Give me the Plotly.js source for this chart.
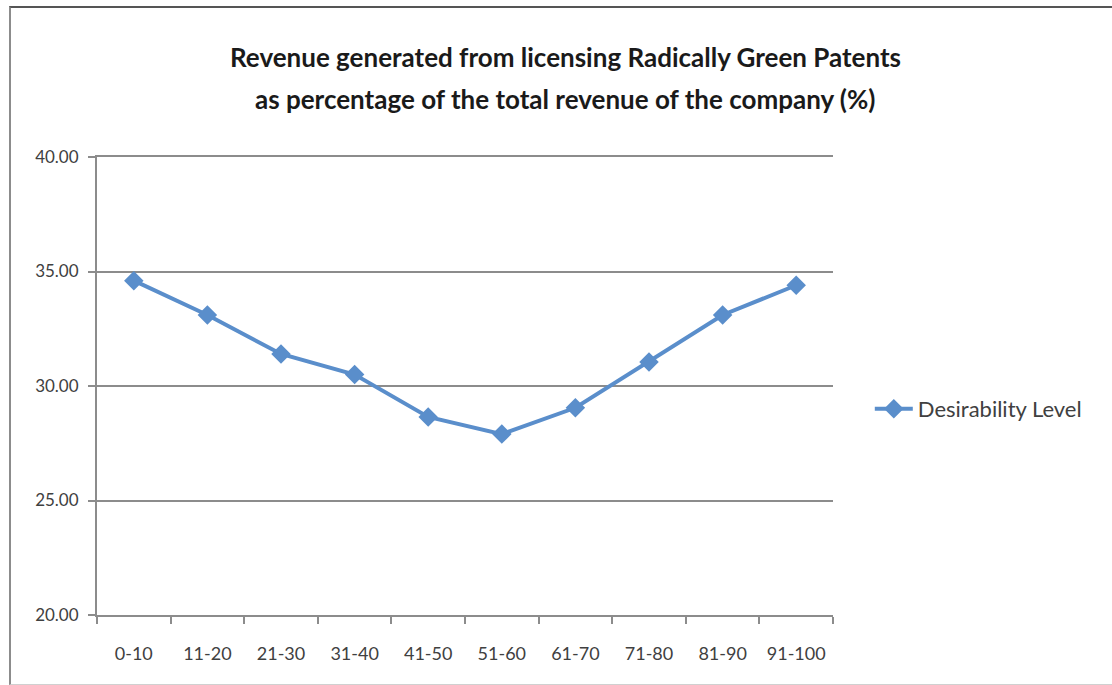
<!DOCTYPE html>
<html>
<head>
<meta charset="utf-8">
<script src="https://cdn.plot.ly/plotly-3.0.1.min.js"></script>
<style>
  html, body { margin: 0; padding: 0; background: #ffffff; }
  #chart { position: absolute; left: 0; top: 0; width: 1112px; height: 685px; }
  #frame { position: absolute; left: 9px; top: 6px; width: 1110px; height: 676px;
           border-top: 2px solid #555555; border-left: 2px solid #8c8c8c; border-bottom: 1px solid #d0d0d0;
           pointer-events: none; }
</style>
</head>
<body>
<div id="chart"></div>
<div id="frame"></div>
<script>
// ---- data ----
const categories = ["0-10", "11-20", "21-30", "31-40", "41-50", "51-60", "61-70", "71-80", "81-90", "91-100"];
const desirability = [34.6, 33.1, 31.4, 30.5, 28.65, 27.9, 29.05, 31.05, 33.1, 34.4];
const seriesName = "Desirability Level";
const titleLines = [
  "Revenue generated from licensing Radically Green Patents",
  "as percentage of the total revenue of the company (%)"
];
const yTicks = [20, 25, 30, 35, 40];

const FONT = "Lato, 'Noto Sans', sans-serif";
const blue = "#5a8ecb";

const trace = {
  type: "scatter",
  mode: "lines+markers",
  x: categories,
  y: desirability,
  name: seriesName,
  line: { color: blue, width: 4 },
  marker: { symbol: "diamond", size: 15, color: blue }
};

const layout = {
  width: 1112,
  height: 685,
  margin: { l: 97, r: 279, t: 157, b: 70 },
  paper_bgcolor: "rgba(0,0,0,0)",
  plot_bgcolor: "#ffffff",
  font: { family: FONT, color: "#404040" },
  showlegend: true,
  legend: {
    x: 1.05, xanchor: "left", y: 0.45, yanchor: "middle",
    itemwidth: 38,
    font: { family: FONT, size: 22, color: "#404040" },
    bgcolor: "rgba(0,0,0,0)"
  },
  xaxis: {
    type: "category",
    range: [-0.5, categories.length - 0.5],
    showline: true, linecolor: "#8c8c8c", linewidth: 2, mirror: true,
    ticks: "outside", tickson: "boundaries", ticklen: 7, tickcolor: "#8c8c8c", tickwidth: 2,
    ticklabelstandoff: 21,
    showgrid: false, zeroline: false,
    tickfont: { family: FONT, size: 18, color: "#404040" },
    fixedrange: true
  },
  yaxis: {
    range: [20, 40],
    tickvals: yTicks,
    tickformat: ".2f",
    showline: true, linecolor: "#8c8c8c", linewidth: 2,
    ticks: "outside", ticklen: 7, tickcolor: "#8c8c8c", tickwidth: 2,
    ticklabelstandoff: 6,
    showgrid: true, gridcolor: "#8c8c8c", gridwidth: 2,
    zeroline: false,
    tickfont: { family: FONT, size: 17, color: "#404040" },
    fixedrange: true
  },
  annotations: [
    { text: "<b>" + titleLines[0] + "</b>", xref: "paper", yref: "paper", x: 0.636, y: 1.218,
      xanchor: "center", yanchor: "middle", showarrow: false,
      font: { family: FONT, size: 26, color: "#1a1a1a" } },
    { text: "<b>" + titleLines[1] + "</b>", xref: "paper", yref: "paper", x: 0.636, y: 1.126,
      xanchor: "center", yanchor: "middle", showarrow: false,
      font: { family: FONT, size: 26, color: "#1a1a1a" } }
  ]
};

Plotly.newPlot("chart", [trace], layout, { displayModeBar: false, staticPlot: true });
</script>
</body>
</html>
